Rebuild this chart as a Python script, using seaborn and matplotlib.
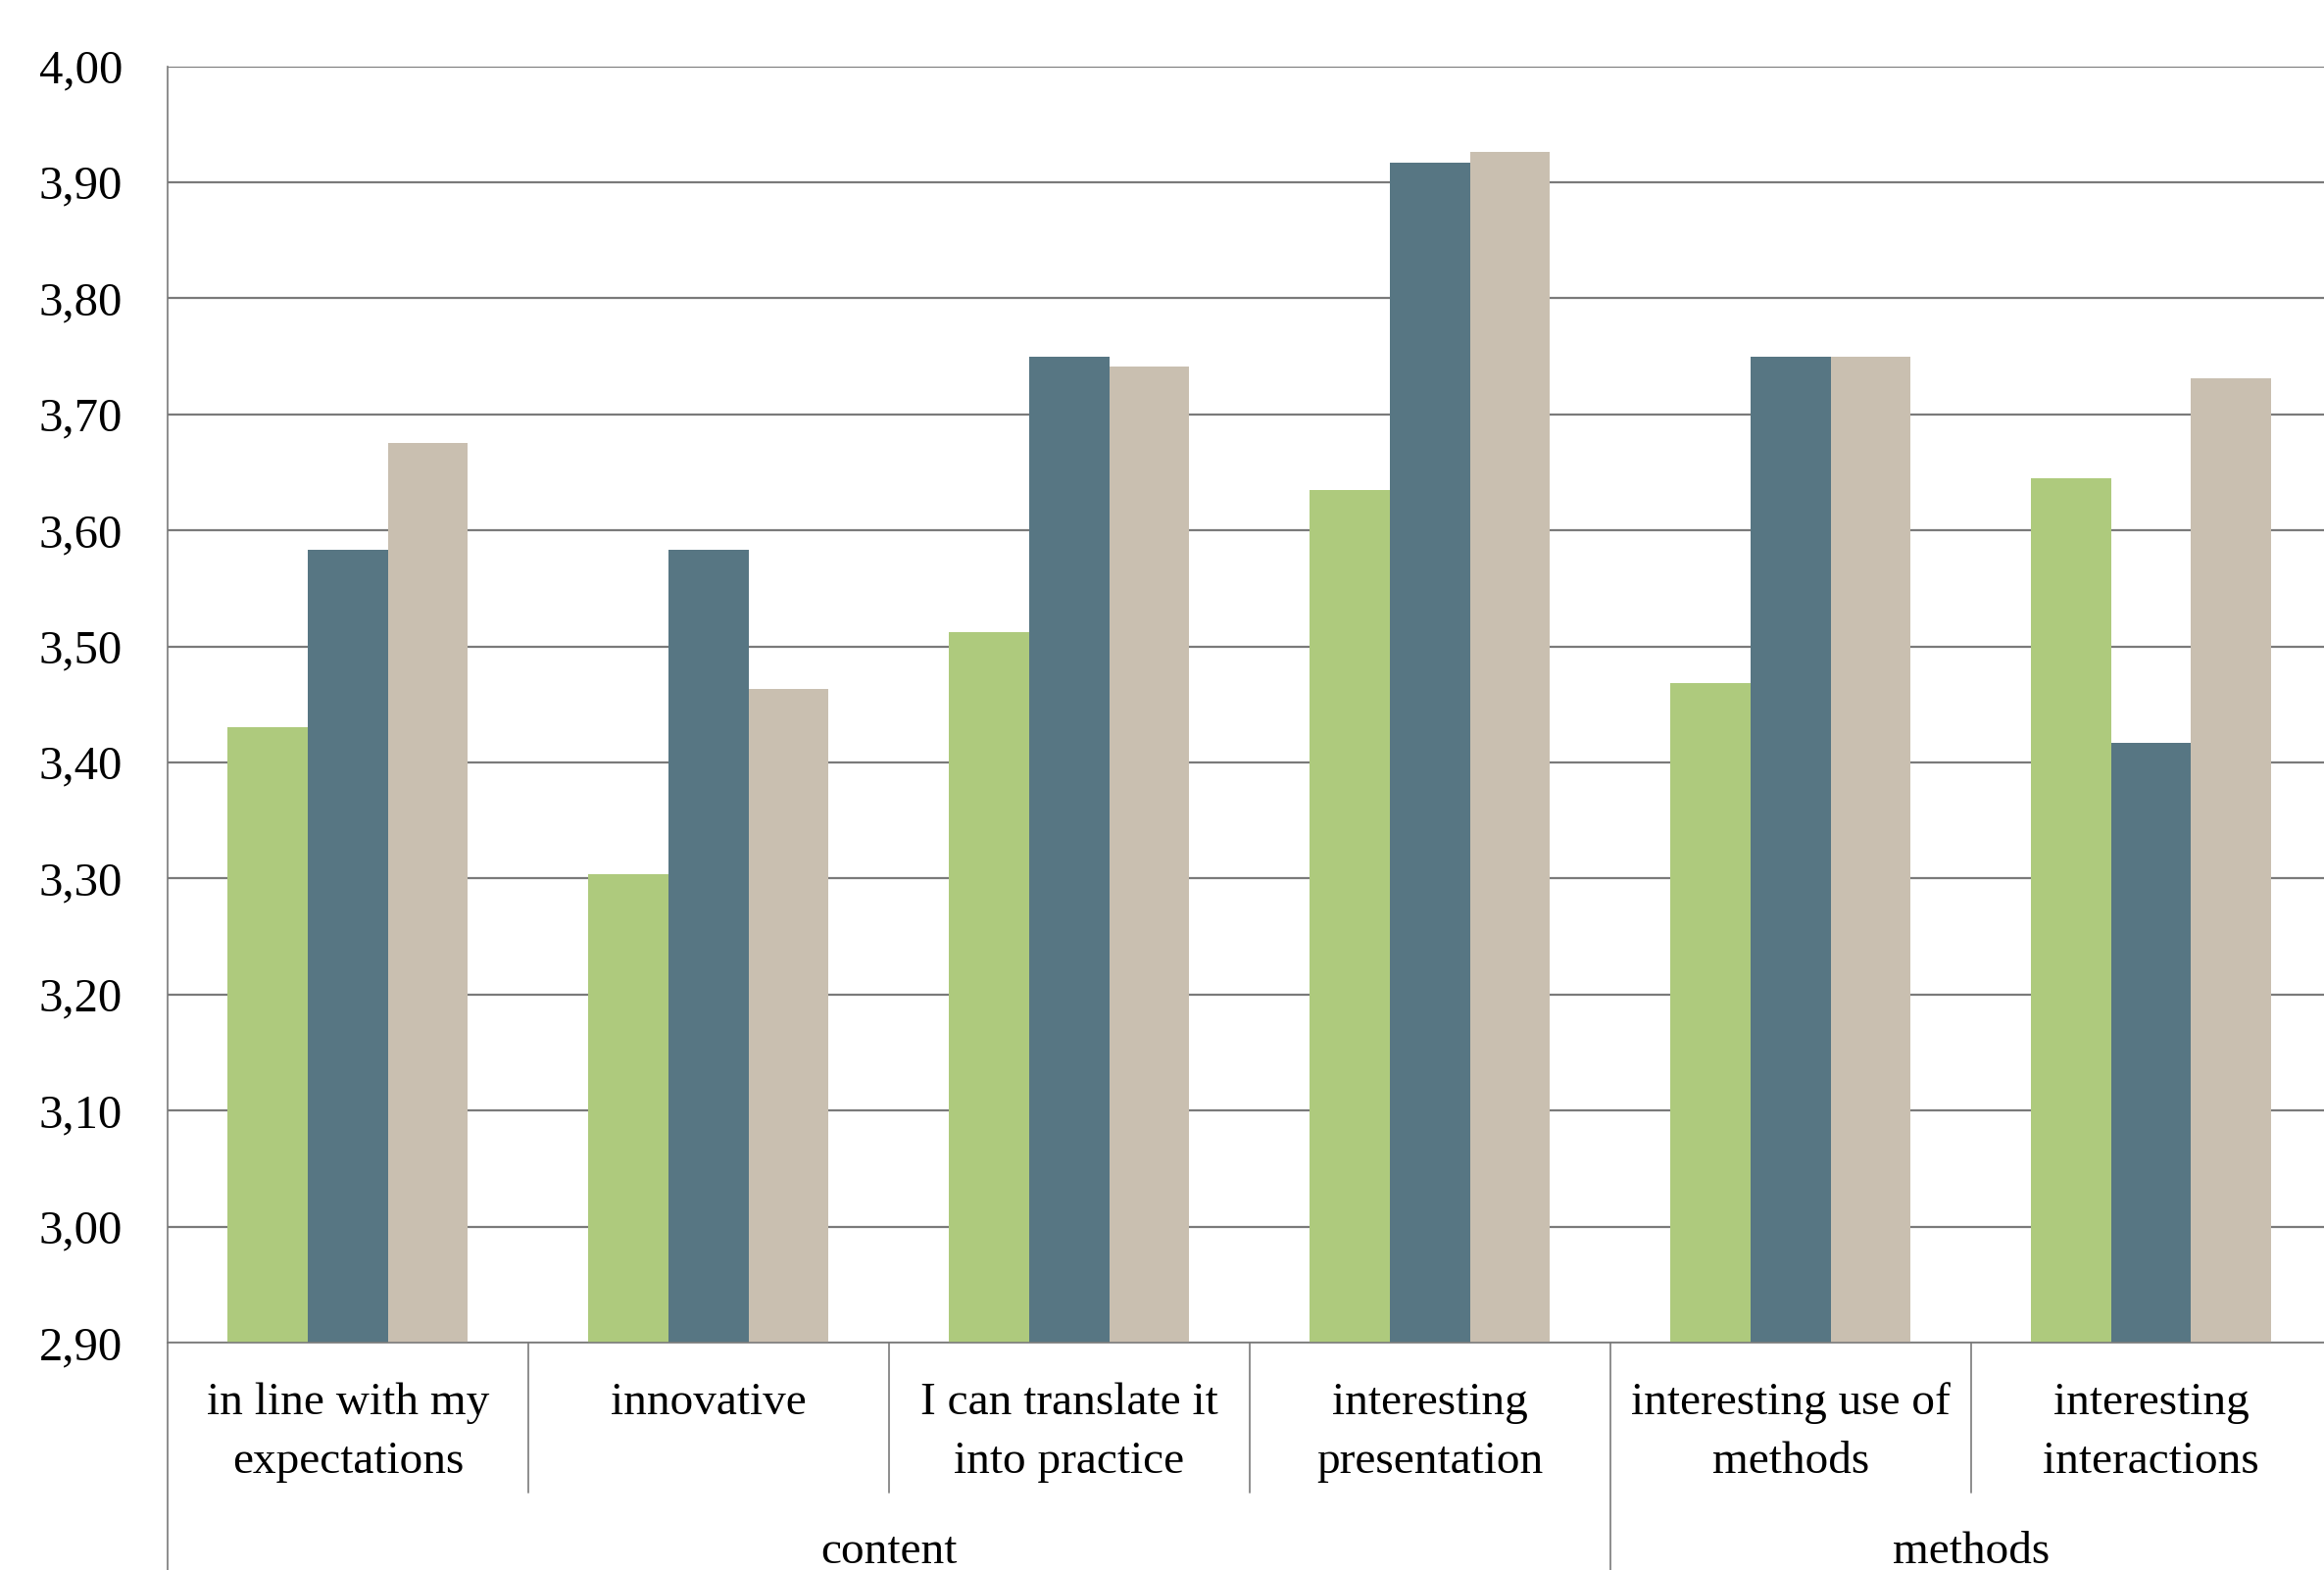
import matplotlib
matplotlib.use("Agg")
import matplotlib.pyplot as plt
import matplotlib.transforms as mtransforms
import numpy as np
import pandas as pd
import seaborn as sns

# ---- data ----
categories = ["in line with my\nexpectations", "innovative", "I can translate it\ninto practice",
              "interesting\npresentation", "interesting use of\nmethods", "interesting\ninteractions"]
groups = ["content", "content", "content", "content", "methods", "methods"]
series_names = ["S1", "S2", "S3"]
s1_values = [3.43, 3.304, 3.512, 3.635, 3.468, 3.645]
s2_values = [3.583, 3.583, 3.75, 3.917, 3.75, 3.417]
s3_values = [3.675, 3.463, 3.741, 3.926, 3.75, 3.731]
yticks = [2.9, 3.0, 3.1, 3.2, 3.3, 3.4, 3.5, 3.6, 3.7, 3.8, 3.9, 4.0]
colors = ["#AECA7D", "#577683", "#C9BFB0"]

rows = []
for name, vals in zip(series_names, [s1_values, s2_values, s3_values]):
    for c, v in zip(categories, vals):
        rows.append({"category": c, "series": name, "value": v})
df = pd.DataFrame(rows)

sns.set_style("white")
plt.rcParams["font.family"] = ["Liberation Serif", "DejaVu Serif"]

W, H = 2371, 1602
fig = plt.figure(figsize=(W / 100, H / 100), dpi=100)
left_px, right_px, top_px, bot_px = 171, 2378.6, 67.5, 1370
ax = fig.add_axes([left_px / W, 1 - bot_px / H, (right_px - left_px) / W, (bot_px - top_px) / H])

sns.barplot(data=df, x="category", y="value", hue="series", order=categories,
            hue_order=series_names, palette=colors, width=0.666, gap=0,
            errorbar=None, legend=False, linewidth=0, saturation=1, ax=ax)

ax.set_xlim(-0.5, len(categories) - 0.5)
ax.set_ylim(2.9, 4.0)
ax.set_yticks(yticks)
ax.set_yticklabels([f"{v:.2f}".replace(".", ",") for v in yticks])
ax.set_xlabel("")
ax.set_ylabel("")

grid_col = "#7A7A7A"
ax.set_axisbelow(True)
ax.yaxis.grid(True, color=grid_col, linewidth=1.6)
ax.xaxis.grid(False)
for s in ["top", "right"]:
    ax.spines[s].set_visible(False)
for s in ["left", "bottom"]:
    ax.spines[s].set_color(grid_col)
    ax.spines[s].set_linewidth(1.2)

ax.tick_params(axis="y", length=10, width=1.2, color=grid_col, pad=23, labelsize=35, labelcolor="black")
ax.tick_params(axis="x", length=0, pad=29, labelsize=34, labelcolor="black")
for lab in ax.get_xticklabels():
    lab.set_linespacing(1.55)
    lab.set_ha("center")

# category separators and group labels
trans = mtransforms.blended_transform_factory(ax.transData, ax.transAxes)
ax_h = bot_px - top_px
sep_y = -(1523 - bot_px) / ax_h
grp_y = -(H + 20 - bot_px) / ax_h
n = len(categories)
for i in range(n + 1):
    xb = i - 0.5
    is_group = (i == 0 or i == n or groups[i - 1] != groups[i])
    ax.plot([xb, xb], [0, grp_y if is_group else sep_y], transform=trans,
            color=grid_col, linewidth=1.2, clip_on=False)

uniq = []
for g in groups:
    if g not in uniq:
        uniq.append(g)
lab_y = -(1595 - bot_px) / ax_h
for g in uniq:
    idx = [i for i, gg in enumerate(groups) if gg == g]
    ax.text(np.mean(idx), lab_y, g, transform=trans, ha="center", va="baseline",
            fontsize=34, color="black", clip_on=False)

fig.savefig("out.png", dpi=100)
